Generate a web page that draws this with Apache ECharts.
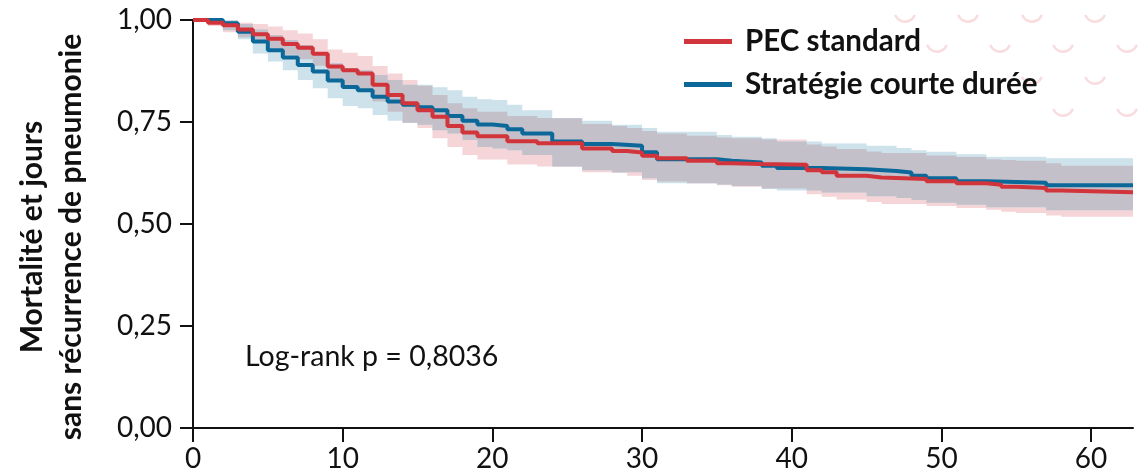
<!DOCTYPE html>
<html>
<head>
<meta charset="utf-8">
<script src="https://cdn.jsdelivr.net/npm/echarts@6/dist/echarts.min.js"></script>
<style>
  html, body { margin: 0; padding: 0; background: #fff; }
  #chart { width: 1142px; height: 475px; }
</style>
</head>
<body>
<div id="chart"></div>
<script>
// Courbe PEC standard (rouge)
const redTimes = [0,1,2,3,4,5,6,7,8,9,10,11,12,13,14,15,16,17,18,19,21,23,26,28,29,30,31,33,35,36,38,41,42,43,45,46,49,51,53,54,55,57,58];
const redSurv  = [1.000,0.993,0.987,0.977,0.965,0.954,0.941,0.932,0.917,0.886,0.877,0.869,0.841,0.816,0.796,0.779,0.763,0.740,0.724,0.715,0.703,0.698,0.685,0.679,0.675,0.667,0.661,0.655,0.649,0.647,0.645,0.632,0.627,0.618,0.614,0.610,0.605,0.600,0.596,0.591,0.588,0.582,0.578];
const redLow   = [1.000,0.985,0.970,0.958,0.944,0.930,0.915,0.904,0.888,0.853,0.840,0.830,0.800,0.775,0.748,0.735,0.710,0.689,0.669,0.658,0.646,0.641,0.627,0.625,0.618,0.608,0.604,0.600,0.595,0.591,0.587,0.573,0.567,0.560,0.554,0.549,0.544,0.539,0.535,0.530,0.527,0.521,0.518];
const redHigh  = [1.000,1.000,0.998,0.993,0.990,0.984,0.975,0.967,0.953,0.928,0.920,0.912,0.887,0.869,0.853,0.839,0.816,0.796,0.784,0.775,0.765,0.760,0.745,0.740,0.735,0.728,0.722,0.716,0.712,0.710,0.707,0.695,0.690,0.684,0.678,0.674,0.668,0.664,0.659,0.657,0.655,0.649,0.643];

// Courbe Stratégie courte durée (bleu)
const blueTimes = [0,2,3,4,5,6,7,8,9,10,11,12,13,14,15,16,17,18,19,20,21,22,24,26,28,30,31,35,36,38,39,42,45,47,48,49,51,53,57];
const blueSurv  = [1.000,0.992,0.971,0.947,0.926,0.908,0.890,0.874,0.852,0.836,0.828,0.812,0.800,0.792,0.786,0.779,0.765,0.753,0.744,0.740,0.732,0.722,0.702,0.696,0.692,0.676,0.659,0.655,0.651,0.643,0.637,0.634,0.630,0.626,0.618,0.612,0.605,0.601,0.595];
const blueLow   = [1.000,0.975,0.953,0.918,0.898,0.877,0.853,0.833,0.808,0.789,0.784,0.767,0.753,0.748,0.743,0.730,0.722,0.706,0.689,0.685,0.681,0.669,0.641,0.632,0.627,0.612,0.600,0.597,0.593,0.586,0.582,0.577,0.568,0.564,0.559,0.552,0.547,0.541,0.534];
const blueHigh  = [1.000,1.000,0.990,0.977,0.963,0.951,0.939,0.920,0.894,0.882,0.877,0.865,0.853,0.841,0.841,0.835,0.828,0.812,0.806,0.804,0.792,0.779,0.759,0.753,0.743,0.735,0.726,0.718,0.714,0.710,0.702,0.697,0.692,0.686,0.681,0.677,0.671,0.665,0.661];

const xMax = 62.8;
const xTicks = [0, 10, 20, 30, 40, 50, 60];
const yTicks = [0, 0.25, 0.5, 0.75, 1];
const seriesNames = ['PEC standard', 'Stratégie courte durée'];

const FONT = 'Lato, "Open Sans", sans-serif';
const RED = '#d1343a', BLUE = '#0b6899';
const PINK = '#f5d5d8', LIGHTBLUE = '#cde2ea', OVERLAP = '#c4c0ca';

function curve(times, surv) {
  const d = times.map((t, i) => [t, surv[i]]);
  d.push([xMax, surv[surv.length - 1]]);
  return d;
}

// index du dernier pas <= t
function stepIndex(times, t) {
  let k = 0;
  while (k + 1 < times.length && times[k + 1] <= t) k++;
  return k;
}

// zone commune aux deux bandes (gris) : calculée à partir des deux IC
const overlapTimes = Array.from(new Set(redTimes.concat(blueTimes))).sort((a, b) => a - b);
const overlapLow = [], overlapHigh = [];
overlapTimes.forEach(t => {
  const ir = stepIndex(redTimes, t), ib = stepIndex(blueTimes, t);
  const lo = Math.max(redLow[ir], blueLow[ib]);
  const hi = Math.min(redHigh[ir], blueHigh[ib]);
  overlapLow.push(lo);
  overlapHigh.push(Math.max(lo, hi));
});

// bande de confiance en escalier, dessinée comme un polygone
function bandSeries(times, low, high, color, z) {
  return {
    type: 'custom',
    z: z,
    silent: true,
    clip: true,
    data: [[0, 1]],
    renderItem: function (params, api) {
      const top = [], bottom = [];
      for (let i = 0; i < times.length; i++) {
        const t0 = times[i];
        const t1 = i + 1 < times.length ? times[i + 1] : xMax;
        top.push(api.coord([t0, high[i]]), api.coord([t1, high[i]]));
        bottom.push(api.coord([t0, low[i]]), api.coord([t1, low[i]]));
      }
      return {
        type: 'polygon',
        shape: { points: top.concat(bottom.reverse()) },
        style: { fill: color }
      };
    }
  };
}

// petits arcs décoratifs en haut à droite
const arcSpots = [[905,11],[968,11],[1032,11],[1095,11],[937,41],[1000,41],[1063,41],[1127,41],[1032,73],[1095,73],[1063,105],[1127,105]];
const arcs = arcSpots.map(p => ({
  type: 'arc',
  z: 0,
  silent: true,
  shape: { cx: p[0], cy: p[1], r: 10.6, startAngle: Math.PI * 0.12, endAngle: Math.PI * 0.88 },
  style: { stroke: '#f8dcde', lineWidth: 2.5, fill: null }
}));

const chart = echarts.init(document.getElementById('chart'));
chart.setOption({
  backgroundColor: '#ffffff',
  animation: false,
  textStyle: { fontFamily: FONT },
  grid: { left: 193, top: 20, right: 9, bottom: 47, containLabel: false },
  legend: {
    orient: 'vertical',
    left: 684,
    top: 26,
    padding: 0,
    itemWidth: 48,
    itemHeight: 5,
    itemGap: 12,
    icon: 'rect',
    data: seriesNames,
    textStyle: { fontFamily: FONT, fontSize: 29.5, fontWeight: 'bold', color: '#111', lineHeight: 31, padding: [0, 0, 0, 8] }
  },
  xAxis: {
    type: 'value',
    min: 0,
    max: xMax,
    interval: 10,
    splitLine: { show: false },
    axisLine: { lineStyle: { color: '#111', width: 2 } },
    axisTick: { length: 14, lineStyle: { color: '#111', width: 2 }, customValues: xTicks },
    axisLabel: { color: '#111', fontSize: 28, fontFamily: FONT, margin: 17, customValues: xTicks }
  },
  yAxis: {
    type: 'value',
    min: 0,
    max: 1,
    interval: 0.25,
    splitLine: { show: false },
    axisLine: { show: true, lineStyle: { color: '#111', width: 2 } },
    axisTick: { show: true, length: 13, lineStyle: { color: '#111', width: 2 }, customValues: yTicks },
    axisLabel: {
      color: '#111', fontSize: 28, fontFamily: FONT, margin: 21, customValues: yTicks,
      formatter: v => v.toFixed(2).replace('.', ',')
    }
  },
  graphic: arcs.concat([
    {
      type: 'text',
      x: 52, y: 237,
      rotation: Math.PI / 2,
      silent: true,
      style: {
        text: 'Mortalité et jours\nsans récurrence de pneumonie',
        font: 'bold 30px ' + FONT,
        fill: '#111',
        textAlign: 'center',
        textVerticalAlign: 'middle',
        lineHeight: 39
      }
    },
    {
      type: 'text',
      x: 245, y: 357,
      silent: true,
      style: {
        text: 'Log-rank p = 0,8036',
        font: '28.5px ' + FONT,
        fill: '#111',
        textAlign: 'left',
        textVerticalAlign: 'middle'
      }
    }
  ]),
  series: [
    bandSeries(redTimes, redLow, redHigh, PINK, 1),
    bandSeries(blueTimes, blueLow, blueHigh, LIGHTBLUE, 1),
    bandSeries(overlapTimes, overlapLow, overlapHigh, OVERLAP, 1),
    {
      name: seriesNames[0],
      type: 'line',
      step: 'end',
      z: 3,
      showSymbol: false,
      data: curve(redTimes, redSurv),
      itemStyle: { color: RED },
      lineStyle: { color: RED, width: 4 }
    },
    {
      name: seriesNames[1],
      type: 'line',
      step: 'end',
      z: 2,
      showSymbol: false,
      data: curve(blueTimes, blueSurv),
      itemStyle: { color: BLUE },
      lineStyle: { color: BLUE, width: 4 }
    }
  ]
});
window.addEventListener('resize', () => chart.resize());
</script>
</body>
</html>
